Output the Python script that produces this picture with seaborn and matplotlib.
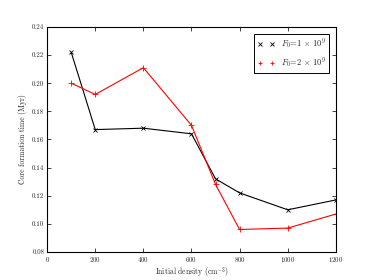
import numpy as np
import pandas as pd
import seaborn as sns
import matplotlib.pyplot as plt

# Data
density = [100, 200, 400, 600, 700, 800, 1000, 1200]
time_f1 = [0.222, 0.167, 0.168, 0.164, 0.132, 0.122, 0.110, 0.117]
time_f2 = [0.200, 0.192, 0.211, 0.170, 0.128, 0.096, 0.097, 0.107]
labels = [r"$F_0$=1 $\times$ 10$^9$", r"$F_0$=2 $\times$ 10$^9$"]

sns.set_style("ticks", {"xtick.direction": "in", "ytick.direction": "in",
                        "axes.edgecolor": "black"})
plt.rcParams["font.family"] = ["cmr10", "DejaVu Serif"]
plt.rcParams["mathtext.fontset"] = "cm"
plt.rcParams["axes.formatter.use_mathtext"] = True
plt.rcParams["axes.unicode_minus"] = False

fig = plt.figure(figsize=(3.74, 2.8), dpi=100)
ax = fig.add_axes([0.126, 0.1, 0.772, 0.804])

df1 = pd.DataFrame({"x": density, "y": time_f1})
df2 = pd.DataFrame({"x": density, "y": time_f2})

sns.lineplot(data=df1, x="x", y="y", color="black", lw=0.8, ax=ax, legend=False)
sns.lineplot(data=df2, x="x", y="y", color="red", lw=0.8, ax=ax, legend=False)
ax.plot(density, time_f1, ls="none", marker="x", ms=3.5, mew=0.6, color="black", label=labels[0])
ax.plot(density, time_f2, ls="none", marker="+", ms=4, mew=0.6, color="red", label=labels[1])

ax.set_xlim(0, 1200)
ax.set_ylim(0.08, 0.24)
ax.set_xticks([0, 200, 400, 600, 800, 1000, 1200])
ax.set_yticks(np.arange(0.08, 0.241, 0.02))
ax.set_yticklabels([f"{v:.2f}" for v in np.arange(0.08, 0.241, 0.02)])
ax.tick_params(labelsize=5, top=True, right=True, length=3, width=0.6, pad=2)
for s in ax.spines.values():
    s.set_linewidth(0.8)

ax.set_xlabel(r"Initial density (cm$^{-3}$)", fontsize=5.5, labelpad=1)
ax.set_ylabel("Core formation time (Myr)", fontsize=5.5, labelpad=4)

leg = ax.legend(loc="upper right", numpoints=2, fontsize=6, fancybox=False,
                edgecolor="black", framealpha=1, handlelength=2,
                markerscale=0.8, borderaxespad=0.8)
leg.get_frame().set_linewidth(0.7)

fig.savefig("out.png", dpi=100)
